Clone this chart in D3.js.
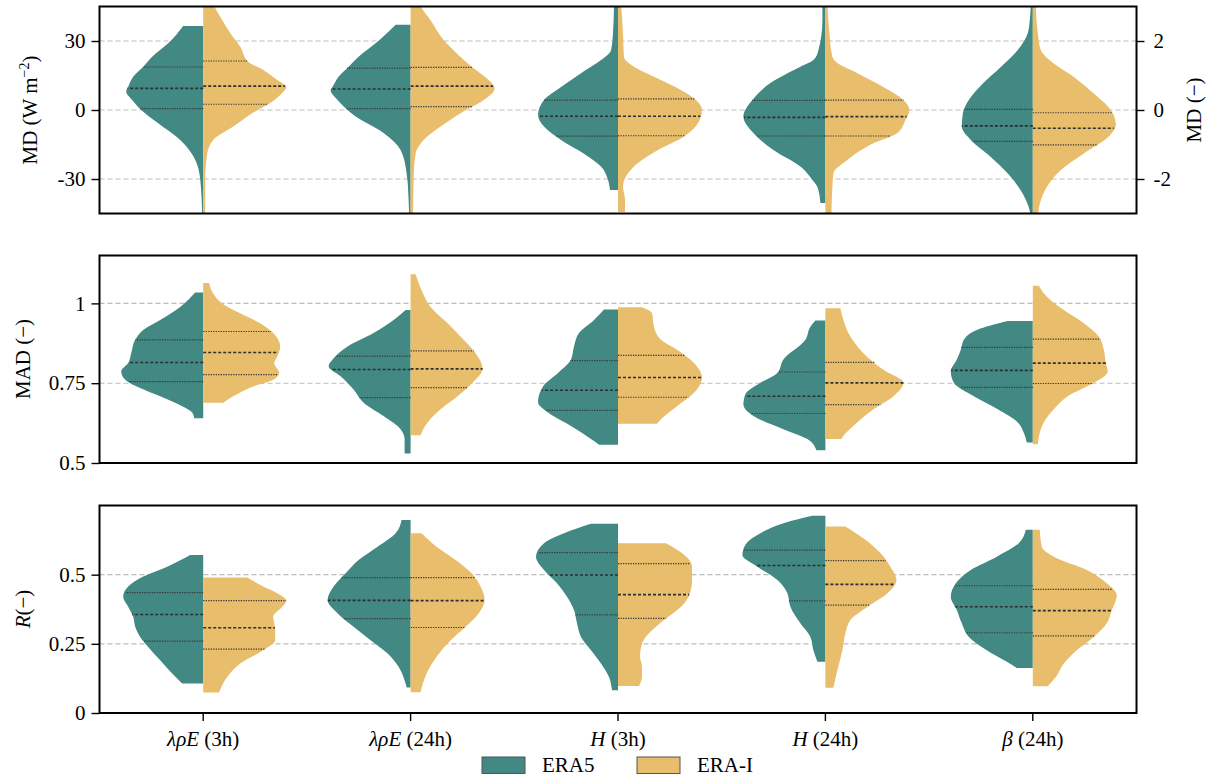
<!DOCTYPE html>
<html><head><meta charset="utf-8">
<script src="https://cdn.jsdelivr.net/npm/d3@7"></script>
<style>
body{margin:0;background:#fff}
svg{display:block}
</style>
</head><body>
<svg id="c" width="1215" height="781"></svg>
<script>
// ---------- data ----------
const categorySymbols = ["λρE", "λρE", "H", "H", "β"];
const categoryPeriods = ["(3h)", "(24h)", "(3h)", "(24h)", "(24h)"];
const seriesNames = ["ERA5", "ERA-I"];

// each violin half: [value, density] pairs (density in arbitrary units, max ≈ 84)
// MD panel (first four in W m-2, last one (β) on right axis, unitless)
const mdEra5 = [
  [[36.5,20],[29,35],[23.2,51],[18.8,60],[14.5,70],[10.1,75],[8,77],[4.3,71],[0,62],[-5.8,45],[-13,23],[-20,10],[-30,3],[-46,1]],
  [[37.1,15],[29,35],[23.2,52],[18.8,62],[14.5,72],[10.1,78],[8.7,80],[4.3,73],[0,63],[-2.2,57],[-10,27],[-17.4,10],[-27.5,4],[-39,2],[-46,1.5]],
  [[46,4],[33.5,5],[26,7],[21.7,17],[16,37],[10,57],[4.3,74],[-2.2,80],[-7.2,74],[-13,57],[-19,34],[-24.6,17],[-30.4,10],[-34.8,8]],
  [[46,3],[39,3],[26,7],[21.7,12],[18.8,25],[11.7,55],[4.3,73],[-2.8,82],[-10,72],[-17.4,52],[-24.6,25],[-30.4,13],[-33.5,8],[-40.4,5]],
  [[3.1,2],[2.6,3],[2.23,5],[1.74,15],[1.25,32],[0.77,50],[0.29,64],[-0.1,70],[-0.48,71],[-0.87,62],[-1.36,42],[-1.84,25],[-2.33,12],[-2.82,4],[-3.1,2]]
];
const mdEraI = [
  [[46,10],[40.5,17],[33.5,27],[27.5,37],[21,45],[17.4,60],[13,74],[10,83],[6.5,77],[3,67],[-1.4,49],[-7.2,30],[-13,10],[-19,4],[-30,2],[-46,2]],
  [[46,8],[39,20],[30.4,33],[24.7,46],[18.8,61],[13,78],[9.4,84],[4.3,73],[-1.4,50],[-7.2,30],[-13,13],[-19,5],[-30,3],[-46,2.5]],
  [[46,3],[33.5,5],[23,6],[18.8,16],[14.5,36],[8.7,63],[4.3,78],[0,84],[-5,81],[-11.5,66],[-17.4,40],[-23,20],[-27.5,10],[-33.3,5],[-39,7],[-44.3,7]],
  [[46,2],[33.5,4],[23,7],[20.4,12],[16,32],[10,58],[4.3,78],[0,84],[-4.3,80],[-10,72],[-14.5,48],[-21.7,22],[-27.5,8],[-33.3,7],[-46,6]],
  [[3.1,3],[2.23,5],[1.74,8],[1.35,21],[0.96,41],[0.48,61],[0,78],[-0.43,83],[-0.77,76],[-1.26,51],[-1.74,28],[-2.23,14],[-2.72,7],[-3.1,5]]
];
// quartiles [q1, median, q3]
const mdEra5Q = [[0.6,9.4,18.7],[0.6,9.1,18.2],[-11.4,-2.7,4.3],[-11.3,-3.2,4.2],[-0.91,-0.46,0.02]];
const mdEraIQ = [[2.5,10.4,21.3],[1.5,10.4,18.5],[-11.2,-2.7,4.8],[-11.3,-2.9,4.3],[-1.01,-0.53,-0.08]];

// MAD panel
const madEra5 = [
  [[1.034,8],[0.989,23],[0.948,43],[0.917,60],[0.886,68],[0.844,72],[0.813,75],[0.787,82],[0.761,78],[0.735,63],[0.709,43],[0.678,21],[0.658,11],[0.64,9]],
  [[0.979,5],[0.948,17],[0.907,37],[0.865,63],[0.824,78],[0.803,82],[0.772,70],[0.73,57],[0.689,47],[0.647,27],[0.606,10],[0.575,6],[0.53,6]],
  [[0.981,14],[0.948,24],[0.907,39],[0.865,44],[0.824,47],[0.782,60],[0.74,75],[0.691,80],[0.658,70],[0.616,47],[0.575,27],[0.557,19]],
  [[0.946,10],[0.927,15],[0.886,20],[0.824,42],[0.782,48],[0.751,65],[0.715,80],[0.683,82],[0.647,72],[0.606,42],[0.575,18],[0.54,9]],
  [[0.945,25],[0.917,56],[0.886,69],[0.855,72],[0.824,76],[0.787,82],[0.751,79],[0.709,59],[0.668,35],[0.627,15],[0.595,9],[0.564,6]]
];
const madEraI = [
  [[1.064,6],[1.031,10],[1.0,19],[0.969,37],[0.938,57],[0.907,70],[0.865,77],[0.834,74],[0.813,71],[0.782,76],[0.761,70],[0.74,50],[0.709,30],[0.689,20]],
  [[1.091,5],[1.041,11],[0.989,20],[0.938,37],[0.886,53],[0.844,65],[0.795,72],[0.751,62],[0.709,47],[0.668,30],[0.627,17],[0.595,11],[0.587,10]],
  [[0.988,24],[0.969,34],[0.927,36],[0.886,43],[0.855,59],[0.813,76],[0.767,84],[0.72,76],[0.678,59],[0.637,43],[0.623,39]],
  [[0.985,15],[0.948,18],[0.896,25],[0.844,38],[0.792,58],[0.751,78],[0.709,68],[0.668,48],[0.616,28],[0.585,18],[0.575,16]],
  [[1.055,6],[1.021,14],[0.979,31],[0.938,51],[0.896,66],[0.855,71],[0.813,73],[0.787,75],[0.751,61],[0.709,35],[0.668,21],[0.627,11],[0.595,7],[0.559,5]]
];
const madEra5Q = [[0.755,0.815,0.886],[0.705,0.793,0.835],[0.665,0.728,0.821],[0.655,0.709,0.785],[0.737,0.79,0.862]];
const madEraIQ = [[0.777,0.846,0.912],[0.736,0.795,0.851],[0.706,0.768,0.837],[0.683,0.751,0.815],[0.749,0.813,0.888]];

// R panel
const rEra5 = [
  [[0.571,13],[0.529,36],[0.493,60],[0.457,75],[0.42,80],[0.384,75],[0.348,70],[0.312,68],[0.275,63],[0.239,55],[0.191,43],[0.143,31],[0.107,21]],
  [[0.698,9],[0.65,15],[0.601,33],[0.553,52],[0.505,65],[0.457,77],[0.408,83],[0.36,73],[0.312,57],[0.263,40],[0.215,23],[0.167,12],[0.118,6],[0.092,4]],
  [[0.684,27],[0.65,54],[0.614,74],[0.565,82],[0.517,74],[0.469,61],[0.42,51],[0.372,44],[0.324,41],[0.275,37],[0.227,27],[0.179,17],[0.13,9],[0.082,6]],
  [[0.713,13],[0.686,42],[0.65,65],[0.608,80],[0.571,83],[0.529,68],[0.481,48],[0.433,38],[0.384,35],[0.324,25],[0.275,15],[0.227,12],[0.185,8]],
  [[0.662,7],[0.614,14],[0.565,36],[0.517,62],[0.469,77],[0.42,82],[0.372,76],[0.324,71],[0.275,64],[0.227,46],[0.185,26],[0.163,16]]
];
const rEraI = [
  [[0.49,44],[0.457,60],[0.433,74],[0.406,83],[0.384,79],[0.348,70],[0.3,72],[0.263,72],[0.227,60],[0.179,37],[0.13,24],[0.074,16]],
  [[0.65,11],[0.601,26],[0.553,45],[0.505,61],[0.457,70],[0.408,74],[0.36,68],[0.312,55],[0.263,40],[0.203,26],[0.143,16],[0.075,10]],
  [[0.614,48],[0.578,64],[0.529,74],[0.481,74],[0.433,72],[0.384,63],[0.336,46],[0.288,31],[0.251,24],[0.203,22],[0.167,24],[0.13,24],[0.098,21]],
  [[0.674,20],[0.626,40],[0.578,55],[0.529,65],[0.481,71],[0.433,62],[0.384,42],[0.336,25],[0.288,20],[0.227,17],[0.155,12],[0.091,8]],
  [[0.662,7],[0.601,9],[0.565,21],[0.517,54],[0.469,74],[0.426,84],[0.372,79],[0.324,74],[0.275,61],[0.227,44],[0.179,31],[0.13,23],[0.097,15]]
];
const rEra5Q = [[0.26,0.356,0.435],[0.341,0.407,0.489],[0.355,0.499,0.58],[0.405,0.533,0.589],[0.29,0.384,0.46]];
const rEraIQ = [[0.231,0.308,0.406],[0.309,0.406,0.489],[0.342,0.428,0.54],[0.39,0.465,0.551],[0.279,0.37,0.447]];

const mdTicks = [-30, 0, 30];
const mdRightTicks = [-2, 0, 2];
const madTicks = [0.5, 0.75, 1];
const rTicks = [0, 0.25, 0.5];

// ---------- drawing ----------
const FONT = '"Liberation Serif", "Times New Roman", Tinos';
const svg = d3.select("#c");
const colors = ["#418982", "#E8BD6B"];
const left = 99.5, right = 1136.5;
const x = d3.scaleBand().domain(d3.range(categorySymbols.length)).range([left, right]).padding(0);
const cx = i => x(i) + x.bandwidth() / 2;
const w = d3.scaleLinear().domain([0, 84]).range([0, x.bandwidth() * 0.405]);
const fmt = d => (d < 0 ? "-" + Math.abs(d) : String(d));

const panels = [
  {top: 6.5, bottom: 213.5, domain: [-45, 45], ticks: mdTicks, halves: [mdEra5, mdEraI], quarts: [mdEra5Q, mdEraIQ],
   rightAxis: {domain: [-3, 3], ticks: mdRightTicks}, rightCats: [4]},
  {top: 255.5, bottom: 463, domain: [0.5, 1.15], ticks: madTicks, halves: [madEra5, madEraI], quarts: [madEra5Q, madEraIQ]},
  {top: 505.5, bottom: 713, domain: [0, 0.75], ticks: rTicks, halves: [rEra5, rEraI], quarts: [rEra5Q, rEraIQ], xAxis: true}
];

function widthAt(pts, v) {
  const s = pts.slice().sort((a, b) => b[0] - a[0]);
  for (let i = 0; i < s.length - 1; i++) {
    const a = s[i], b = s[i + 1];
    if (v <= a[0] && v >= b[0]) {
      const t = (a[0] - v) / (a[0] - b[0]);
      return a[1] + t * (b[1] - a[1]);
    }
  }
  return 0;
}

panels.forEach((p, pi) => {
  const g = svg.append("g");
  const y = d3.scaleLinear().domain(p.domain).range([p.bottom, p.top]);
  const yR = p.rightAxis ? d3.scaleLinear().domain(p.rightAxis.domain).range([p.bottom, p.top]) : null;
  const yFor = i => (p.rightCats && p.rightCats.includes(i)) ? yR : y;

  const clipId = "clip" + pi;
  svg.append("clipPath").attr("id", clipId).append("rect")
    .attr("x", left).attr("y", p.top).attr("width", right - left).attr("height", p.bottom - p.top);

  // grid
  g.append("g").selectAll("line").data(p.ticks).join("line")
    .attr("x1", left).attr("x2", right)
    .attr("y1", d => y(d)).attr("y2", d => y(d))
    .attr("stroke", "#bdbdbd").attr("stroke-width", 1.1).attr("stroke-dasharray", "5,3");

  const vg = g.append("g").attr("clip-path", `url(#${clipId})`);
  p.halves.forEach((series, si) => {
    const sign = si === 0 ? -1 : 1;
    series.forEach((pts, ci) => {
      const yy = yFor(ci);
      const sorted = pts.slice().sort((a, b) => b[0] - a[0]);
      const area = d3.area()
        .y(d => yy(d[0]))
        .x0(cx(ci))
        .x1(d => cx(ci) + sign * w(d[1]))
        .curve(d3.curveMonotoneY);
      vg.append("path").attr("d", area(sorted)).attr("fill", colors[si]);
    });
  });
  // quartile lines
  p.halves.forEach((series, si) => {
    const sign = si === 0 ? -1 : 1;
    series.forEach((pts, ci) => {
      const yy = yFor(ci);
      p.quarts[si][ci].forEach((q, qi) => {
        const wid = w(widthAt(pts, q));
        vg.append("line")
          .attr("x1", cx(ci)).attr("x2", cx(ci) + sign * wid)
          .attr("y1", yy(q)).attr("y2", yy(q))
          .attr("stroke", qi === 1 ? "#2f2f2f" : "#3a3a3a")
          .attr("stroke-width", qi === 1 ? 1.6 : 1.2)
          .attr("stroke-dasharray", qi === 1 ? "3,2" : "1.3,1.2");
      });
    });
  });

  // frame
  g.append("rect").attr("x", left).attr("y", p.top).attr("width", right - left).attr("height", p.bottom - p.top)
    .attr("fill", "none").attr("stroke", "#000").attr("stroke-width", 2);

  // left axis
  const ax = g.append("g").attr("transform", `translate(${left},0)`)
    .call(d3.axisLeft(y).tickValues(p.ticks).tickSize(8).tickPadding(6).tickFormat(fmt));
  ax.select(".domain").remove();
  ax.selectAll(".tick line").attr("stroke", "#000").attr("stroke-width", 1.4);
  ax.selectAll(".tick text").attr("font-size", 21).attr("fill", "#000");

  if (p.rightAxis) {
    const axR = g.append("g").attr("transform", `translate(${right},0)`)
      .call(d3.axisRight(yR).tickValues(p.rightAxis.ticks).tickSize(8).tickPadding(9).tickFormat(fmt));
    axR.select(".domain").remove();
    axR.selectAll(".tick line").attr("stroke", "#000").attr("stroke-width", 1.4);
    axR.selectAll(".tick text").attr("font-size", 21).attr("fill", "#000");
  }

  if (p.xAxis) {
    const axX = g.append("g").attr("transform", `translate(0,${p.bottom})`)
      .call(d3.axisBottom(x).tickSize(8).tickPadding(8).tickFormat(() => ""));
    axX.select(".domain").remove();
    axX.selectAll(".tick line").attr("stroke", "#000").attr("stroke-width", 1.4);
    const lbl = g.append("g").selectAll("text").data(categorySymbols).join("text")
      .attr("x", (d, i) => cx(i)).attr("y", p.bottom + 33)
      .attr("text-anchor", "middle").attr("font-size", 21);
    lbl.append("tspan").attr("font-style", "italic").text(d => d);
    lbl.append("tspan").text((d, i) => " " + categoryPeriods[i]);
  }
});

// y labels
const yl1 = svg.append("text").attr("transform", "translate(37,110) rotate(-90)")
  .attr("text-anchor", "middle").attr("font-size", 21);
yl1.append("tspan").text("MD (W m");
yl1.append("tspan").attr("font-size", 14).attr("dy", -8).text("−2");
yl1.append("tspan").attr("dy", 8).text(")");

svg.append("text").attr("transform", "translate(30,359) rotate(-90)")
  .attr("text-anchor", "middle").attr("font-size", 21).text("MAD (−)");

const yl3 = svg.append("text").attr("transform", "translate(30,609) rotate(-90)")
  .attr("text-anchor", "middle").attr("font-size", 21);
yl3.append("tspan").attr("font-style", "italic").text("R");
yl3.append("tspan").text("(−)");

svg.append("text").attr("transform", "translate(1201,110) rotate(-90)")
  .attr("text-anchor", "middle").attr("font-size", 21).text("MD (−)");

// legend
const legX = [482, 637];
const leg = svg.append("g").selectAll("g").data(seriesNames).join("g")
  .attr("transform", (d, i) => `translate(${legX[i]},757)`);
leg.append("rect").attr("width", 43).attr("height", 16.5)
  .attr("fill", (d, i) => colors[i]).attr("stroke", "#555").attr("stroke-width", 1);
leg.append("text").attr("x", 60).attr("y", 15).attr("font-size", 21).text(d => d);

// font for all texts
svg.selectAll("text").style("font-family", FONT).style("fill", "#000");
</script>
</body></html>
